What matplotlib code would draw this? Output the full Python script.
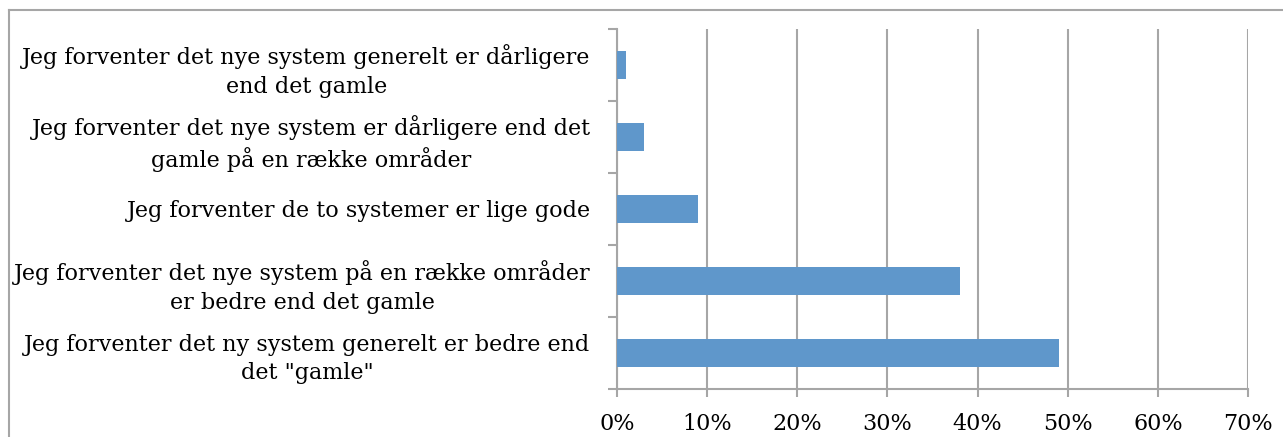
import matplotlib.pyplot as plt
from matplotlib.lines import Line2D
from matplotlib.ticker import FixedLocator, FuncFormatter

# data (bottom to top, as drawn)
categories = [
    'Jeg forventer det ny system generelt er bedre end\ndet "gamle"',
    'Jeg forventer det nye system på en række områder\ner bedre end det gamle',
    'Jeg forventer de to systemer er lige gode',
    'Jeg forventer det nye system er dårligere end det\ngamle på en række områder',
    'Jeg forventer det nye system generelt er dårligere\nend det gamle',
]
values = [49, 38, 9, 3, 1]
x_ticks = [0, 10, 20, 30, 40, 50, 60, 70]

W, H = 1283, 437
fig = plt.figure(figsize=(W / 100, H / 100), dpi=100)
plt.rcParams['font.family'] = ['DejaVu Serif']

# frame around the chart (top + left visible)
grey = '#A6A6A6'
fig.add_artist(Line2D([9 / W, 9 / W], [0, 1 - 10 / H], color=grey, lw=1.5, transform=fig.transFigure))
fig.add_artist(Line2D([9 / W, 1], [1 - 10 / H, 1 - 10 / H], color=grey, lw=1.5, transform=fig.transFigure))

ax = fig.add_axes([617 / W, 1 - 389 / H, (1248 - 617) / W, (389 - 29) / H])

ypos = range(len(categories))
ax.barh(ypos, values, height=0.39, color='#5F97CB', zorder=3)

ax.set_xlim(0, 70)
ax.set_ylim(-0.5, len(categories) - 0.5)
ax.set_xticks(x_ticks)
ax.xaxis.set_major_formatter(FuncFormatter(lambda v, p: f'{v:.0f}%'))
ax.set_yticks(list(ypos))
ax.set_yticklabels(categories, fontsize=16, multialignment='center', linespacing=1.4)
ax.yaxis.set_minor_locator(FixedLocator([i - 0.5 for i in range(len(categories) + 1)]))

ax.grid(axis='x', color=grey, lw=1.5, zorder=0)
for s in ['top', 'right']:
    ax.spines[s].set_visible(False)
for s in ['left', 'bottom']:
    ax.spines[s].set_color(grey)
    ax.spines[s].set_linewidth(1.5)

ax.tick_params(axis='x', length=6, width=1.5, color=grey, labelsize=16, pad=11)
ax.tick_params(axis='y', which='major', length=0, pad=19)
ax.tick_params(axis='y', which='minor', length=6.5, width=1.5, color=grey)

fig.savefig('out.png', dpi=100)
